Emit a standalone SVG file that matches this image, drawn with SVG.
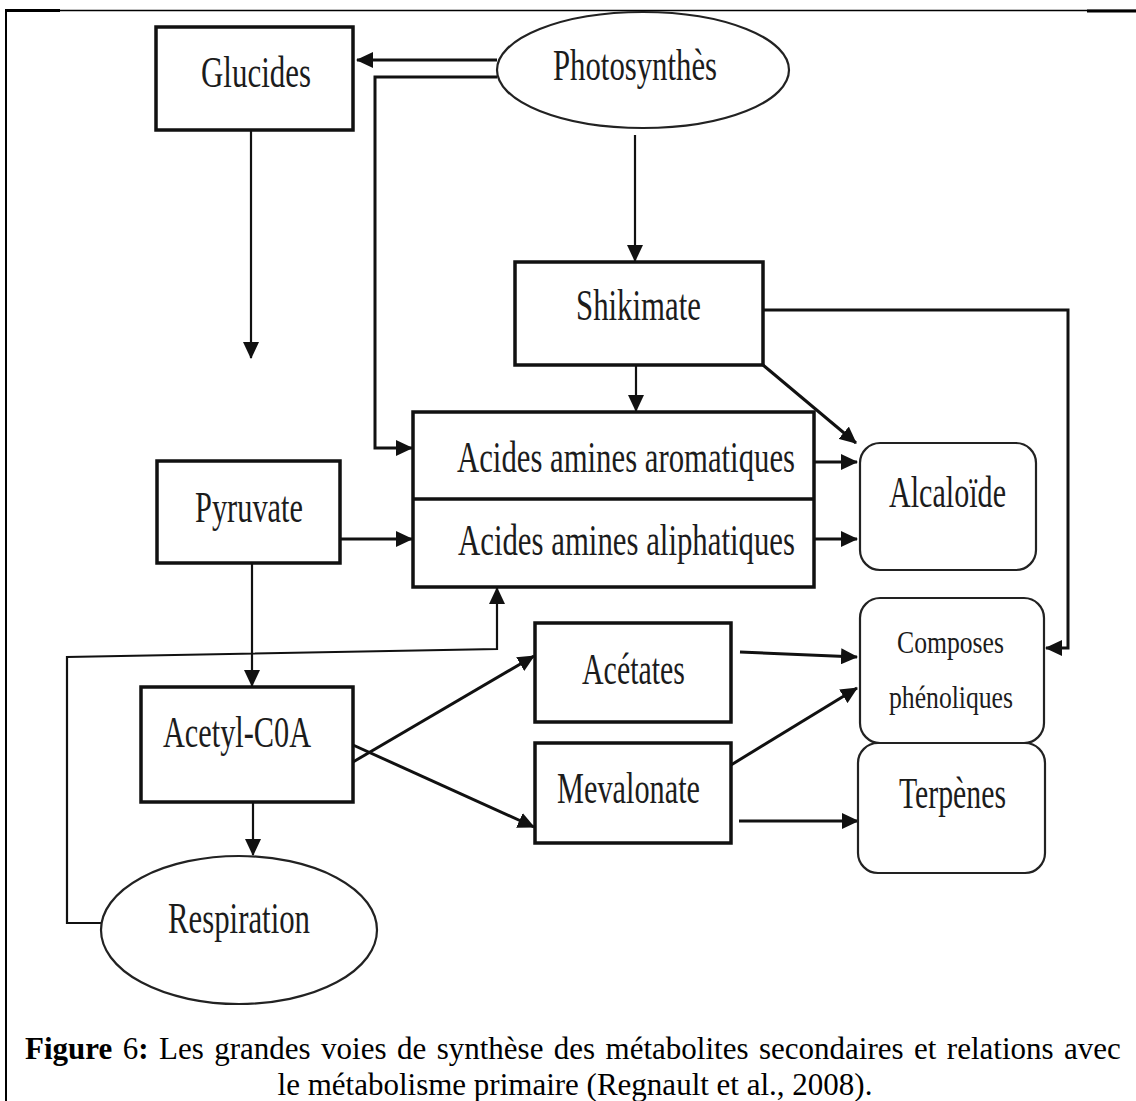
<svg xmlns="http://www.w3.org/2000/svg" width="1136" height="1101" viewBox="0 0 1136 1101">
<style>
.box{fill:#fff;stroke:#111;stroke-width:3.5}
.rbox{fill:#fff;stroke:#222;stroke-width:2.2}
.ell{fill:#fff;stroke:#222;stroke-width:2.2}
.lbl{font-family:"Liberation Serif","Times New Roman",serif;font-size:44px;fill:#1c1c1c}
.sm{font-size:31px}
.cn{fill:none;stroke:#111;stroke-width:3}
.thin{stroke-width:2.2}
.cap{font-family:"Liberation Serif","Times New Roman",serif;font-size:31px;fill:#000}
</style>
<defs>
<marker id="ah" markerUnits="userSpaceOnUse" markerWidth="18" markerHeight="16" refX="16" refY="8" orient="auto">
<path d="M0,0 L17,8 L0,16 z" fill="#111"/>
</marker>
</defs>
<rect width="1136" height="1101" fill="#fff"/>
<g id="frame" fill="none" stroke="#000">
<line x1="5" y1="10.5" x2="1136" y2="10.5" stroke-width="1.5"/>
<line x1="5" y1="10.5" x2="60" y2="10.5" stroke-width="3"/>
<line x1="1087" y1="11" x2="1136" y2="11" stroke-width="3"/>
<line x1="6" y1="10" x2="6" y2="1101" stroke-width="2"/>
</g>
<g id="connectors">
<path class="cn" d="M497,60 H357" stroke-width="4" marker-end="url(#ah)"/>
<path class="cn" d="M497,77 H375 V448 H412" marker-end="url(#ah)"/>
<path class="cn thin" d="M251,130 V358" marker-end="url(#ah)"/>
<path class="cn thin" d="M635,135 V261" marker-end="url(#ah)"/>
<path class="cn thin" d="M636,365 V411" marker-end="url(#ah)"/>
<path class="cn" d="M763,365 L856,443" marker-end="url(#ah)"/>
<path class="cn" d="M763,310 H1068 V648 H1046" marker-end="url(#ah)"/>
<path class="cn" d="M814,462 H857" marker-end="url(#ah)"/>
<path class="cn" d="M814,539 H857" marker-end="url(#ah)"/>
<path class="cn" d="M340,539 H412" marker-end="url(#ah)"/>
<path class="cn thin" d="M252,563 V686" marker-end="url(#ah)"/>
<path class="cn thin" d="M101,923 H67 V657 L497,649 V588" marker-end="url(#ah)"/>
<path class="cn thin" d="M253,802 V855" marker-end="url(#ah)"/>
<path class="cn" d="M353,762 L534,656" marker-end="url(#ah)"/>
<path class="cn" d="M353,745 L534,827" marker-end="url(#ah)"/>
<path class="cn" d="M740,652 L857,657" marker-end="url(#ah)"/>
<path class="cn" d="M731,765 L857,688" marker-end="url(#ah)"/>
<path class="cn" d="M739,821 H858" marker-end="url(#ah)"/>
</g>
<g id="glucides">
<rect class="box" x="156" y="27" width="197" height="103"/>
<text class="lbl" x="201" y="87" textLength="110" lengthAdjust="spacingAndGlyphs">Glucides</text>
</g>
<g id="photosynthese">
<ellipse class="ell" cx="643" cy="70" rx="146" ry="58"/>
<text class="lbl" x="553" y="80" textLength="164" lengthAdjust="spacingAndGlyphs">Photosynthès</text>
</g>
<g id="shikimate">
<rect class="box" x="515" y="262" width="248" height="103"/>
<text class="lbl" x="576" y="320" textLength="125" lengthAdjust="spacingAndGlyphs">Shikimate</text>
</g>
<g id="acides-amines">
<rect class="box" x="413" y="412" width="401" height="175"/>
<line x1="413" y1="499" x2="814" y2="499" stroke="#111" stroke-width="3.5"/>
<text class="lbl" x="457" y="472" textLength="338" lengthAdjust="spacingAndGlyphs">Acides amines aromatiques</text>
<text class="lbl" x="458" y="555" textLength="337" lengthAdjust="spacingAndGlyphs">Acides amines aliphatiques</text>
</g>
<g id="pyruvate">
<rect class="box" x="157" y="461" width="183" height="102"/>
<text class="lbl" x="195" y="522" textLength="108" lengthAdjust="spacingAndGlyphs">Pyruvate</text>
</g>
<g id="alcaloide">
<rect class="rbox" x="860" y="443" width="176" height="127" rx="20"/>
<text class="lbl" x="889" y="507" textLength="117" lengthAdjust="spacingAndGlyphs">Alcaloïde</text>
</g>
<g id="composes-phenoliques">
<rect class="rbox" x="860" y="598" width="184" height="145" rx="20"/>
<text class="lbl sm" x="897" y="653" textLength="107" lengthAdjust="spacingAndGlyphs">Composes</text>
<text class="lbl sm" x="889" y="708" textLength="124" lengthAdjust="spacingAndGlyphs">phénoliques</text>
</g>
<g id="terpenes">
<rect class="rbox" x="858" y="743" width="187" height="130" rx="20"/>
<text class="lbl" x="899" y="808" textLength="107" lengthAdjust="spacingAndGlyphs">Terpènes</text>
</g>
<g id="acetates">
<rect class="box" x="535" y="623" width="196" height="99"/>
<text class="lbl" x="582" y="684" textLength="103" lengthAdjust="spacingAndGlyphs">Acétates</text>
</g>
<g id="mevalonate">
<rect class="box" x="535" y="743" width="196" height="100"/>
<text class="lbl" x="557" y="803" textLength="143" lengthAdjust="spacingAndGlyphs">Mevalonate</text>
</g>
<g id="acetyl-coa">
<rect class="box" x="141" y="687" width="212" height="115"/>
<text class="lbl" x="163" y="747" textLength="148" lengthAdjust="spacingAndGlyphs">Acetyl-C0A</text>
</g>
<g id="respiration">
<ellipse class="ell" cx="239" cy="930" rx="138" ry="74"/>
<text class="lbl" x="168" y="933" textLength="142" lengthAdjust="spacingAndGlyphs">Respiration</text>
</g>
<g id="caption">
<text class="cap" x="25" y="1059" word-spacing="2.7"><tspan font-weight="bold">Figure</tspan> 6<tspan font-weight="bold">:</tspan> Les grandes voies de synthèse des métabolites secondaires et relations avec</text>
<text class="cap" x="575" y="1095" text-anchor="middle">le métabolisme primaire (Regnault et al., 2008).</text>
</g>
</svg>
